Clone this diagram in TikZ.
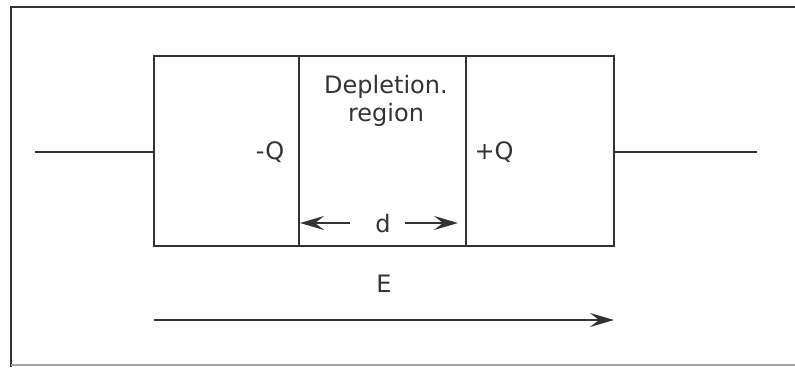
\documentclass[tikz,border=0pt]{standalone}
\usepackage{fontspec}
\setmainfont{DejaVu Sans}
\usetikzlibrary{arrows.meta}
\begin{document}
\begin{tikzpicture}[x=1pt,y=-1pt,
  ln/.style={line width=2pt,draw=black!80},
  lbl/.style={font=\fontsize{24}{28}\selectfont,text=black!80,inner sep=0pt},
  tip/.style={-{Stealth[length=24pt,width=14pt,inset=9pt]}}]
\useasboundingbox (0,0) rectangle (795,367);
% frame
\draw[ln] (11,367) -- (11,7) -- (795,7);
\draw[line width=2pt,draw=black!35] (11,365) -- (795,365);
% device box
\coordinate (bl) at (154,246);
\coordinate (tr) at (614,56);
\draw[ln] (bl) rectangle (tr);
\coordinate (d1t) at (299,56); \coordinate (d1b) at (299,246);
\coordinate (d2t) at (466,56); \coordinate (d2b) at (466,246);
\draw[ln] (d1t) -- (d1b);
\draw[ln] (d2t) -- (d2b);
% wires
\coordinate (wl) at (35,152); \coordinate (wlb) at (154,152);
\coordinate (wr) at (757,152); \coordinate (wrb) at (614,152);
\draw[ln] (wl) -- (wlb);
\draw[ln] (wrb) -- (wr);
% labels
\node[lbl] (mq) at (270,152) {-Q};
\node[lbl] (pq) at (494,152) {+Q};
\node[lbl,align=center] (dep) at (386,101) {Depletion.\\region};
\node[lbl] (d) at (383,224) {d};
\node[lbl] (E) at (384,284) {E};
% d arrows
\coordinate (la) at (300,223); \coordinate (ra) at (458,223);
\coordinate (ls) at (350,223); \coordinate (rs) at (405,223);
\draw[ln,tip] (ls) -- (la);
\draw[ln,tip] (rs) -- (ra);
% E arrow
\coordinate (es) at (154,320); \coordinate (ee) at (614,320);
\draw[ln,tip] (es) -- (ee);
\end{tikzpicture}
\end{document}
